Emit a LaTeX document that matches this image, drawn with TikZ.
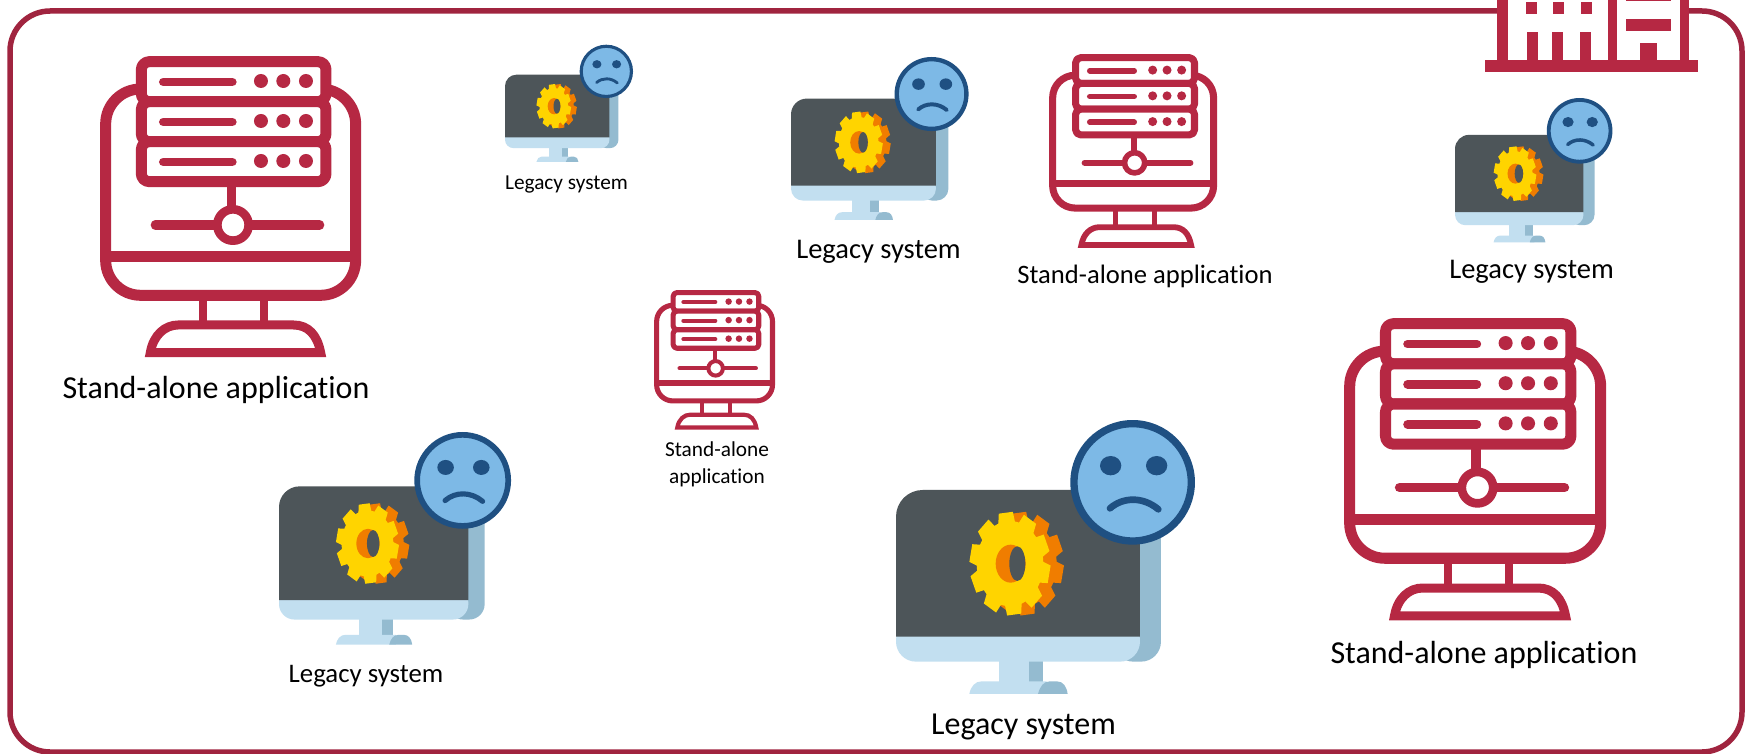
\documentclass[tikz,border=0pt]{standalone}
\usepackage{fontspec}
\setmainfont{Carlito}[Ligatures=NoCommon]
\definecolor{framec}{HTML}{A0243F}
\definecolor{iconc}{HTML}{B62843}
\definecolor{darks}{HTML}{4D5559}
\definecolor{lightb}{HTML}{C2DFF0}
\definecolor{midb}{HTML}{94BBD0}
\definecolor{gearY}{HTML}{FFD400}
\definecolor{gearO}{HTML}{F07D00}
\definecolor{faceb}{HTML}{7DB9E6}
\definecolor{faced}{HTML}{1F5082}
\tikzset{
  lbl/.style={inner sep=0pt,align=center,text=black},
  lw/.style={line width=#1*\ics pt},
}
\newcommand{\gearat}[2]{%
  \fill[#2] (#1,431) ellipse[x radius=100,y radius=128];
  \foreach \a in {0,...,9}{
    \pgfmathsetmacro{\t}{\a*36-96}
    \fill[#2] ({#1+98*cos(\t-15)},{431+125*sin(\t-15)})
      -- ({#1+122*cos(\t-10)},{431+156*sin(\t-10)})
      -- ({#1+122*cos(\t+10)},{431+156*sin(\t+10)})
      -- ({#1+98*cos(\t+15)},{431+125*sin(\t+15)}) -- cycle;
  }%
}
% bounding box of the icon, its top-left at (#1,#2), scale #3
\newcommand{\servericon}[3]{%
  \def\ics{#3}%
  \begin{scope}[shift={(#1,#2)},x=#3pt,y=-#3pt,shift={(-60,-48)},draw=iconc,line join=round]
    % stand
    \draw[lw=24] (370,775) -- (370,850) (552,775) -- (552,850);
    % monitor
    \draw[lw=33,fill=white,rounded corners=105*\ics pt] (77,147) rectangle (827,766);
    \draw[lw=33] (77,650) -- (827,650);
    % base
    \draw[lw=27,fill=white,line join=miter] (211,938) .. controls (220,885) and (255,855) .. (295,855)
      -- (640,855) .. controls (685,855) and (712,885) .. (722,938) -- cycle;
    % servers
    \foreach \y in {65,185,305}{
      \draw[lw=33,fill=white,rounded corners=24*\ics pt] (184,\y) rectangle (738,\y+120);
      \draw[lw=26,line cap=round] (250,\y+61) -- (457,\y+61);
      \foreach \x in {543,610,678}{\fill[iconc] (\x,\y+58) circle[radius=21];}
    }
    % network
    \draw[lw=28] (454,430) -- (454,510);
    \draw[lw=28,line cap=round] (226,555) -- (719,555);
    \draw[lw=26,fill=white] (459,555) circle[radius=47];
  \end{scope}%
}
\newcommand{\legacyicon}[3]{%
  \def\ics{#3}%
  \begin{scope}[shift={(#1,#2)},x=#3pt,y=-#3pt,shift={(-48,0)}]
    % stand
    \fill[lightb] (358,720) rectangle (447,790);
    \fill[midb] (447,720) rectangle (490,790);
    \fill[lightb] (268,822) .. controls (272,800) and (285,784) .. (305,784) -- (500,784) -- (500,822) -- cycle;
    \fill[midb] (474,822) .. controls (480,800) and (490,784) .. (510,784) -- (530,784) .. controls (550,784) and (560,800) .. (563,822) -- cycle;
    % body
    \fill[midb,rounded corners=60*\ics pt] (700,210) rectangle (843,725);
    \fill[lightb,rounded corners=60*\ics pt] (48,600) rectangle (780,725);
    \fill[darks] (48,650) -- (48,290) arc[start angle=180,end angle=270,radius=80] -- (780,210) -- (780,650) -- cycle;
    % gear
    \gearat{430}{gearO}
    \gearat{390}{gearY}
    \fill[gearO] (392,431) ellipse[x radius=45,y radius=57];
    \fill[darks] (412,431) ellipse[x radius=24,y radius=52];
    % face
    \fill[faceb,draw=faced,lw=22] (758,187) circle[radius=176];
    \fill[faced] (692,137) ellipse[x radius=32,y radius=29];
    \fill[faced] (830,137) ellipse[x radius=32,y radius=29];
    \draw[faced,lw=20,line cap=round] (690,265) .. controls (730,230) and (790,230) .. (835,268);
  \end{scope}%
}
\begin{document}
\begin{tikzpicture}[x=1pt,y=-1pt]
\useasboundingbox (0,0) rectangle (1751,754);
\clip (0,0) rectangle (1751,754);
\fill[white] (0,0) rectangle (1751,754);
\draw[framec,line width=5.5pt,rounded corners=40pt] (10,11) rectangle (1742,752);
% building
\begin{scope}[shift={(1460,0)},x=0.3333pt,y=-0.3333pt]
  \fill[white] (112,0) rectangle (688,181);
  \fill[iconc] (75,181) rectangle (713,215);
  \fill[iconc] (112,0) rectangle (145,181);
  \fill[iconc] (445,0) rectangle (472,181);
  \fill[iconc] (660,0) rectangle (688,181);
  \foreach \x in {198,279,362}{\fill[iconc] (\x,6) rectangle (\x+34,42);}
  \foreach \x in {200,276,360}{\fill[iconc] (\x,97) rectangle (\x+34,181);}
  \fill[iconc] (498,57) rectangle (633,93);
  \fill[iconc] (498,0) rectangle (633,3);
  \fill[iconc] (539,129) rectangle (590,181);
\end{scope}
% icons
\servericon{100}{56}{0.3333}
\servericon{1049}{54}{0.2146}
\servericon{654}{290}{0.1545}
\servericon{1344}{318}{0.3346}
\legacyicon{505}{44.7}{0.1427}
\legacyicon{791}{57}{0.198}
\legacyicon{1455}{98}{0.1755}
\legacyicon{279}{432}{0.2587}
\legacyicon{896}{420}{0.3333}
% labels
\node[lbl,font=\fontsize{32}{38}\selectfont] (sa1) at (216,390) {Stand-alone application};
\node[lbl,font=\fontsize{26.6}{32}\selectfont] (sa2) at (1145,276.5) {Stand-alone application};
\node[lbl,font=\fontsize{21.3}{27}\selectfont] (sa3) at (717,464) {Stand-alone\\application};
\node[lbl,font=\fontsize{32}{38}\selectfont] (sa4) at (1484,655) {Stand-alone application};
\node[lbl,font=\fontsize{21.3}{26}\selectfont] (ls1) at (566.5,184) {Legacy system};
\node[lbl,font=\fontsize{28.5}{34}\selectfont] (ls2) at (878.5,252) {Legacy system};
\node[lbl,font=\fontsize{28.5}{34}\selectfont] (ls3) at (1531.5,272) {Legacy system};
\node[lbl,font=\fontsize{26.8}{32}\selectfont] (ls4) at (366,676) {Legacy system};
\node[lbl,font=\fontsize{32}{38}\selectfont] (ls5) at (1023.5,727) {Legacy system};
\end{tikzpicture}
\end{document}
